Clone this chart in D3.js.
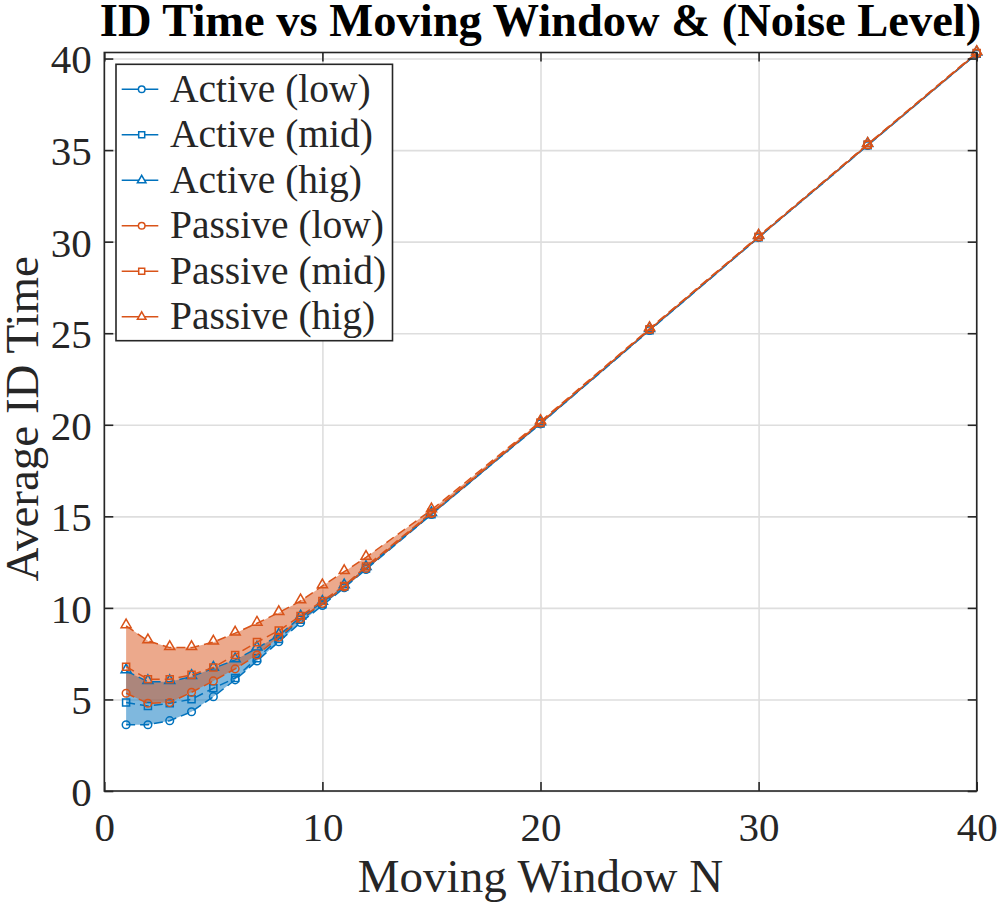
<!DOCTYPE html>
<html>
<head>
<meta charset="utf-8">
<script src="https://cdn.jsdelivr.net/npm/d3@7"></script>
<style>
  body { margin: 0; background: #fff; }
  text { font-family: "Liberation Serif", "Times New Roman", serif; fill: #262626; }
</style>
</head>
<body>
<svg class="chart"></svg>
<script>
// window sizes on the x axis
var N = [1, 2, 3, 4, 5, 6, 7, 8, 9, 10, 11, 12, 15, 20, 25, 30, 35, 40];

// average ID time
var activeLow  = [3.62, 3.62, 3.84, 4.33, 5.15, 6.07, 7.10, 8.15, 9.20, 10.13, 11.10, 12.10, 15.10, 20.05, 25.15, 30.22, 35.25, 40.25];
var activeMid  = [4.83, 4.64, 4.79, 5.01, 5.61, 6.17, 7.25, 8.30, 9.35, 10.20, 11.15, 12.15, 15.12, 20.07, 25.17, 30.24, 35.27, 40.27];
var activeHig  = [6.56, 5.97, 5.97, 6.25, 6.70, 7.16, 7.80, 8.50, 9.50, 10.30, 11.20, 12.20, 15.15, 20.10, 25.20, 30.27, 35.30, 40.30];
var passiveLow = [5.34, 4.79, 4.83, 5.39, 6.01, 6.67, 7.43, 8.40, 9.40, 10.25, 11.15, 12.15, 15.15, 20.10, 25.20, 30.25, 35.28, 40.28];
var passiveMid = [6.79, 6.10, 6.10, 6.34, 6.74, 7.43, 8.13, 8.76, 9.56, 10.38, 11.20, 12.26, 15.20, 20.12, 25.22, 30.27, 35.30, 40.30];
var passiveHig = [9.02, 8.20, 7.83, 7.83, 8.13, 8.62, 9.16, 9.74, 10.38, 11.20, 11.98, 12.76, 15.35, 20.18, 25.25, 30.30, 35.32, 40.33];

var xTicks = [0, 10, 20, 30, 40];
var yTicks = [0, 5, 10, 15, 20, 25, 30, 35, 40];
var legendNames = ["Active (low)", "Active (mid)", "Active (hig)", "Passive (low)", "Passive (mid)", "Passive (hig)"];

var blue = "#0072BD",
    orange = "#D95319",
    axisColor = "#262626";

var width = 997,
    height = 904;
var plotL = 104.3, plotR = 976.7, plotT = 52.5, plotB = 791;

var svg = d3.select(".chart")
    .attr("width", width)
    .attr("height", height);

var x = d3.scaleLinear().domain([0, 40]).range([plotL, plotR]);
var y = d3.scaleLinear().domain([0, 40.33]).range([plotB, plotT]);

//grid lines
svg.append("g")
    .attr("transform", "translate(0," + plotB + ")")
    .call(d3.axisBottom(x).tickValues(xTicks).tickSize(-(plotB - plotT)).tickFormat(""))
    .call(function(g) { g.select(".domain").remove(); })
    .selectAll("line").attr("stroke", "#dedede").attr("stroke-width", 1.6);
svg.append("g")
    .attr("transform", "translate(" + plotL + ",0)")
    .call(d3.axisLeft(y).tickValues(yTicks).tickSize(-(plotR - plotL)).tickFormat(""))
    .call(function(g) { g.select(".domain").remove(); })
    .selectAll("line").attr("stroke", "#dedede").attr("stroke-width", 1.6);

//shaded bands between low and hig noise
var series = [
    {name: legendNames[0], vals: activeLow, color: blue, marker: "circle"},
    {name: legendNames[1], vals: activeMid, color: blue, marker: "square"},
    {name: legendNames[2], vals: activeHig, color: blue, marker: "triangle"},
    {name: legendNames[3], vals: passiveLow, color: orange, marker: "circle"},
    {name: legendNames[4], vals: passiveMid, color: orange, marker: "square"},
    {name: legendNames[5], vals: passiveHig, color: orange, marker: "triangle"}
];

var band = d3.area()
    .x(function(d, i) { return x(N[i]); })
    .y0(function(d) { return y(d[0]); })
    .y1(function(d) { return y(d[1]); });

svg.append("path")
    .datum(N.map(function(n, i) { return [activeLow[i], activeHig[i]]; }))
    .attr("d", band)
    .attr("fill", blue)
    .attr("fill-opacity", 0.5);
svg.append("path")
    .datum(N.map(function(n, i) { return [passiveLow[i], passiveHig[i]]; }))
    .attr("d", band)
    .attr("fill", orange)
    .attr("fill-opacity", 0.5);

var symbols = {
    circle: d3.symbol().type(d3.symbolCircle).size(46),
    square: d3.symbol().type(d3.symbolSquare).size(50),
    triangle: d3.symbol().type(d3.symbolTriangle).size(44)
};
var smallSymbols = {
    circle: d3.symbol().type(d3.symbolCircle).size(34),
    square: d3.symbol().type(d3.symbolSquare).size(36),
    triangle: d3.symbol().type(d3.symbolTriangle).size(32)
};

var line = d3.line()
    .x(function(d, i) { return x(N[i]); })
    .y(function(d) { return y(d); });

//dashed lines with open markers
for (var s = 0; s < series.length; s++) {
    var g = svg.append("g").attr("class", "series" + s);
    g.append("path")
        .datum(series[s].vals)
        .attr("d", line)
        .attr("fill", "none")
        .attr("stroke", series[s].color)
        .attr("stroke-width", 1.5)
        .attr("stroke-dasharray", "9,5");
    g.selectAll(".mk").data(series[s].vals).enter().append("path")
        .attr("class", "mk")
        .attr("d", symbols[series[s].marker])
        .attr("transform", function(d, i) {
            var dy = series[s].marker == "triangle" ? -1 : 0;
            return "translate(" + x(N[i]) + "," + (y(d) + dy) + ")";
        })
        .attr("fill", "none")
        .attr("stroke", series[s].color)
        .attr("stroke-width", 1.5);
}

//axes box with inward ticks
var tick = 9;
svg.append("g")
    .attr("transform", "translate(0," + plotB + ")")
    .call(d3.axisBottom(x).tickValues(xTicks).tickSizeInner(-tick).tickSizeOuter(0).tickPadding(21))
    .call(styleAxis)
    .selectAll("text").attr("dy", "0.71em");
svg.append("g")
    .attr("transform", "translate(0," + plotT + ")")
    .call(d3.axisTop(x).tickValues(xTicks).tickSizeInner(-tick).tickSizeOuter(0).tickFormat(""))
    .call(styleAxis);
svg.append("g")
    .attr("transform", "translate(" + plotL + ",0)")
    .call(d3.axisLeft(y).tickValues(yTicks).tickSizeInner(-tick).tickSizeOuter(0).tickPadding(12.6))
    .call(styleAxis)
    .selectAll("text").attr("dy", "0.35em");
svg.append("g")
    .attr("transform", "translate(" + plotR + ",0)")
    .call(d3.axisRight(y).tickValues(yTicks).tickSizeInner(-tick).tickSizeOuter(0).tickFormat(""))
    .call(styleAxis);
svg.append("rect")
    .attr("x", plotL).attr("y", plotT)
    .attr("width", plotR - plotL).attr("height", plotB - plotT)
    .attr("fill", "none")
    .attr("stroke", axisColor)
    .attr("stroke-width", 1.6);

function styleAxis(g) {
    g.select(".domain").remove();
    g.selectAll("line").attr("stroke", axisColor).attr("stroke-width", 1.6);
    g.selectAll("text")
        .attr("font-family", "Liberation Serif, Times New Roman, serif")
        .attr("font-size", 41)
        .attr("fill", axisColor);
}

//title and axis labels
svg.append("text")
    .attr("x", (plotL + plotR) / 2)
    .attr("y", 36)
    .attr("text-anchor", "middle")
    .attr("font-size", 46.5)
    .attr("font-weight", "bold")
    .style("fill", "#000")
    .text("ID Time vs Moving Window & (Noise Level)");
svg.append("text")
    .attr("x", (plotL + plotR) / 2)
    .attr("y", 892)
    .attr("text-anchor", "middle")
    .attr("font-size", 47)
    .text("Moving Window N");
svg.append("text")
    .attr("transform", "translate(38," + ((plotT + plotB) / 2 - 3) + ") rotate(-90)")
    .attr("text-anchor", "middle")
    .attr("font-size", 47)
    .text("Average ID Time");

//legend
var legend = svg.append("g").attr("class", "legend");
legend.append("rect")
    .attr("x", 116).attr("y", 64.3)
    .attr("width", 276.5).attr("height", 276.4)
    .attr("fill", "#fff")
    .attr("stroke", axisColor)
    .attr("stroke-width", 1.6);
for (var k = 0; k < series.length; k++) {
    var cy = 89.3 + k * 45.5;
    legend.append("line")
        .attr("x1", 121.7).attr("x2", 158.3)
        .attr("y1", cy).attr("y2", cy)
        .attr("stroke", series[k].color)
        .attr("stroke-width", 1.5);
    legend.append("path")
        .attr("d", smallSymbols[series[k].marker])
        .attr("transform", "translate(141.7," + cy + ")")
        .attr("fill", "#fff")
        .attr("stroke", series[k].color)
        .attr("stroke-width", 1.5);
    legend.append("text")
        .attr("x", 170)
        .attr("y", cy + 12.6)
        .attr("font-size", 39.5)
        .text(series[k].name);
}
</script>
</body>
</html>
